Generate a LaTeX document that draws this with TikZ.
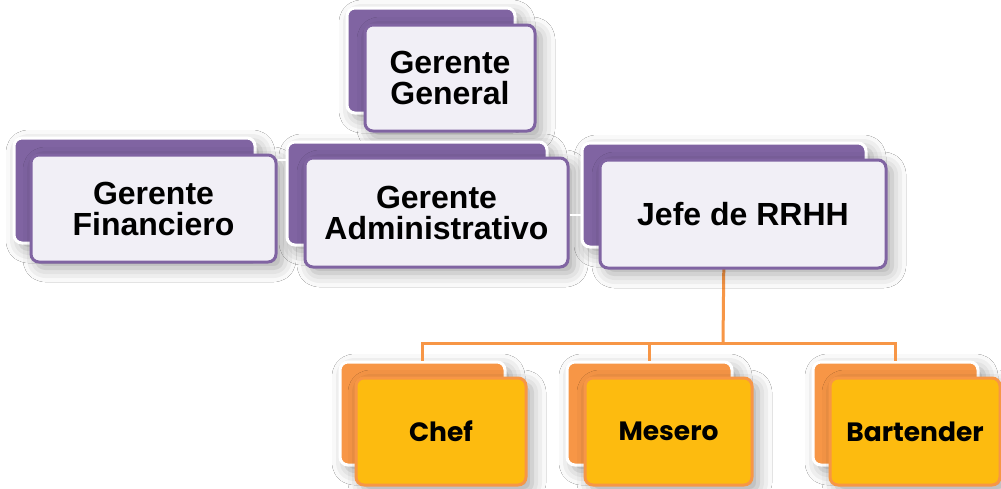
\documentclass[tikz,border=0pt]{standalone}
\usepackage{fontspec}
\setmainfont{Liberation Sans}
\newfontfamily\poppfont{Poppins}
\usetikzlibrary{shadows.blur}
\definecolor{purp}{HTML}{8064A2}
\definecolor{lav}{HTML}{F1EFF6}
\definecolor{orng}{HTML}{F79646}
\definecolor{gold}{HTML}{FDBB0F}
\tikzset{
  x=1pt, y=-1pt,
  softshadow/.style={blur shadow={shadow xshift=6pt, shadow yshift=-6pt, shadow blur radius=14pt, shadow opacity=35}},
  pback/.style={draw=white, line width=3pt, fill=purp, rounded corners=8pt, softshadow},
  pfront/.style={draw=purp, line width=3pt, fill=lav, rounded corners=8pt, softshadow, align=center,
    font=\fontsize{32}{31}\selectfont\bfseries},
  oback/.style={draw=white, line width=3pt, fill=orng, rounded corners=8pt, softshadow},
  ofront/.style={draw=orng, line width=3pt, fill=gold, rounded corners=8pt, softshadow, align=center,
    font=\poppfont\fontsize{26.5}{28}\selectfont\bfseries},
  oline/.style={draw=orng, line width=3pt},
  wline/.style={draw=white, line width=2pt},
}
\begin{document}
\begin{tikzpicture}
\useasboundingbox[fill=white] (0,0) rectangle (1001,488);
% Gerente General
\node[pback, minimum width=168pt, minimum height=105pt] (ggb) at (431,60.5) {};
\node[pfront, minimum width=170pt, minimum height=106pt] (gg) at (450,78) {Gerente\\General};
\coordinate (bus) at (723,343);
% second level
\node[pback, minimum width=241pt, minimum height=105pt] (finb) at (134.5,190.5) {};
\node[pfront, minimum width=245pt, minimum height=107pt] (fin) at (153.5,208.5) {Gerente\\Financiero};
\node[pback, minimum width=260pt, minimum height=103pt] (admb) at (417,193.5) {};
\node[pfront, minimum width=263pt, minimum height=109pt] (adm) at (436.5,212.5) {Gerente\\Administrativo};
\node[pback, minimum width=284pt, minimum height=104pt] (jefb) at (724,195) {};
% third level
\node[oback, minimum width=165pt, minimum height=103pt] (chefb) at (422.5,413.5) {};
\node[oback, minimum width=165pt, minimum height=103pt] (mesb) at (649.5,413.5) {};
\node[oback, minimum width=165pt, minimum height=103pt] (barb) at (895.5,413.5) {};
\draw[oline] (jefb.south) -- (bus);
\draw[oline] (bus) -| (chefb.north);
\draw[oline] (bus) -| (barb.north);
\draw[oline] (mesb.north) -- (mesb.north |- bus);
\node[pfront, minimum width=286pt, minimum height=108pt] (jef) at (743,214) {Jefe de RRHH};
\node[ofront, minimum width=170pt, minimum height=107pt] (chef) at (441,431.5) {Chef};
\node[ofront, minimum width=167pt, minimum height=107pt] (mes) at (668.5,431.5) {Mesero};
\node[ofront, minimum width=170pt, minimum height=107pt] (bar) at (915,431.5) {Bartender};
% faint white connectors
\coordinate (w1) at (280,160);
\coordinate (w2) at (580,215);
\draw[wline] (fin.east |- w1) -- (admb.west |- w1);
\draw[wline] (adm.east |- w2) -- (jefb.west |- w2);
\end{tikzpicture}
\end{document}
